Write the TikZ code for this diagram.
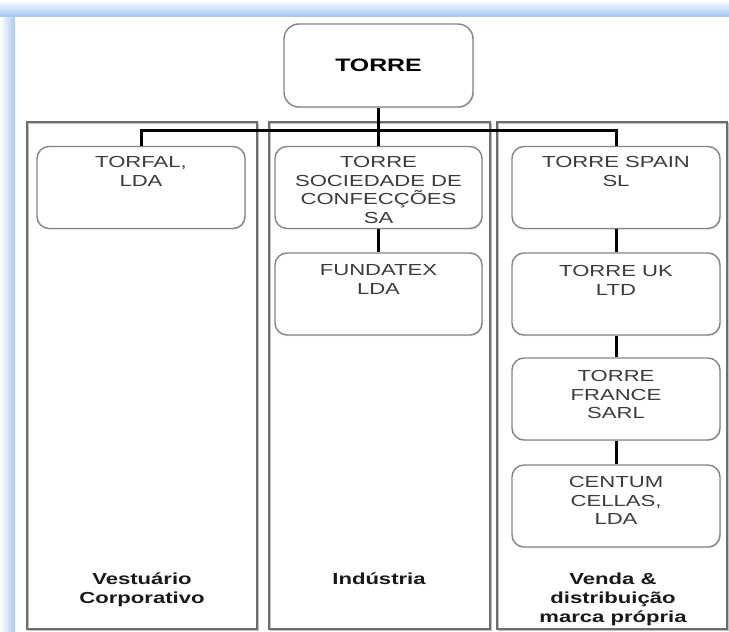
\documentclass[tikz,border=0pt]{standalone}
\usepackage{fontspec}
\setmainfont{Liberation Sans}[FakeStretch=1.38]
\usetikzlibrary{shadows}
\definecolor{bandblue}{HTML}{A9C9F2}
\definecolor{boxgray}{HTML}{858585}
\definecolor{colgray}{HTML}{6E6E6E}
\definecolor{txtgray}{HTML}{3C3C3C}
\newcommand{\fl}{\rule{0pt}{16pt}}
\tikzset{
  colbox/.style={draw=colgray, line width=1.3pt},
  colshadow/.style={draw=black!25, line width=1.3pt},
  cbox/.style={draw=boxgray, line width=1.4pt, rounded corners=12pt, fill=white,
    minimum width=208pt, minimum height=82pt, inner sep=0pt,
    drop shadow={shadow xshift=1pt, shadow yshift=-1pt, fill=black!20}},
  ctext/.style={anchor=north, inner sep=0pt, align=center, text=txtgray,
    font=\fontsize{16pt}{18.5pt}\selectfont},
  coltext/.style={anchor=north, inner sep=0pt, align=center, text=black!90,
    font=\fontsize{16pt}{19pt}\selectfont\bfseries},
  conn/.style={draw=black, line width=3pt}
}
\begin{document}
\begin{tikzpicture}[x=1pt, y=-1pt]
\useasboundingbox (0,0) rectangle (729,632);
\fill[white] (0,0) rectangle (729,632);
% blue frame
\shade[left color=white, right color=bandblue] (0,0) rectangle (15,632);
\shade[top color=white, bottom color=bandblue] (0,0) rectangle (729,16);
% columns
\draw[colshadow] (28.5,123.5) rectangle (258.5,630.5);
\draw[colshadow] (270.5,123.5) rectangle (491.5,630.5);
\draw[colshadow] (498.5,123.5) rectangle (728.5,630.5);
\draw[colbox] (27,122) rectangle (257,629);
\draw[colbox] (269,122) rectangle (490,629);
\draw[colbox] (497,122) rectangle (727,629);
% top box
\node[cbox, minimum width=189pt, minimum height=83pt, rounded corners=15pt,
  text=black, font=\fontsize{18pt}{20pt}\selectfont\bfseries] (torre) at (378.5,65.5) {TORRE};
% child boxes
\node[cbox] (torfal) at (141,187.5) {};
\node[cbox, minimum width=207pt] (tsoc) at (378.5,187.5) {};
\node[cbox, minimum width=207pt] (fund) at (378.5,294) {};
\node[cbox] (spain) at (616,187.5) {};
\node[cbox] (uk) at (616,294) {};
\node[cbox] (france) at (616,399) {};
\node[cbox] (centum) at (616,506) {};
% connectors
\draw[conn] (torre.south) -- (tsoc.north);
\draw[conn] (torfal.north) -- ++(0,-15) -| (spain.north);
\draw[conn] (tsoc.south) -- (fund.north);
\draw[conn] (spain.south) -- (uk.north);
\draw[conn] (uk.south) -- (france.north);
\draw[conn] (france.south) -- (centum.north);
% box texts
\node[ctext] (torfalt) at ([yshift=-5.5pt]torfal.north) {\fl TORFAL,\\LDA};
\node[ctext] (tsoct) at ([yshift=-5.5pt]tsoc.north) {\fl TORRE\\SOCIEDADE DE\\CONFECÇÕES\\SA};
\node[ctext] (fundt) at ([yshift=-7pt]fund.north) {\fl FUNDATEX\\LDA};
\node[ctext] (spaint) at ([yshift=-5.5pt]spain.north) {\fl TORRE SPAIN\\SL};
\node[ctext] (ukt) at ([yshift=-8pt]uk.north) {\fl TORRE UK\\LTD};
\node[ctext] (francet) at ([yshift=-8pt]france.north) {\fl TORRE\\FRANCE\\SARL};
\node[ctext] (centumt) at ([yshift=-7pt]centum.north) {\fl CENTUM\\CELLAS,\\LDA};
% column labels
\node[coltext] (lab1) at (142,568.7) {\fl Vestuário\\Corporativo};
\node[coltext] (lab2) at (379,568.7) {\fl Indústria};
\node[coltext] (lab3) at (613,568.7) {\fl Venda \&\\distribuição\\marca própria};
\end{tikzpicture}
\end{document}
